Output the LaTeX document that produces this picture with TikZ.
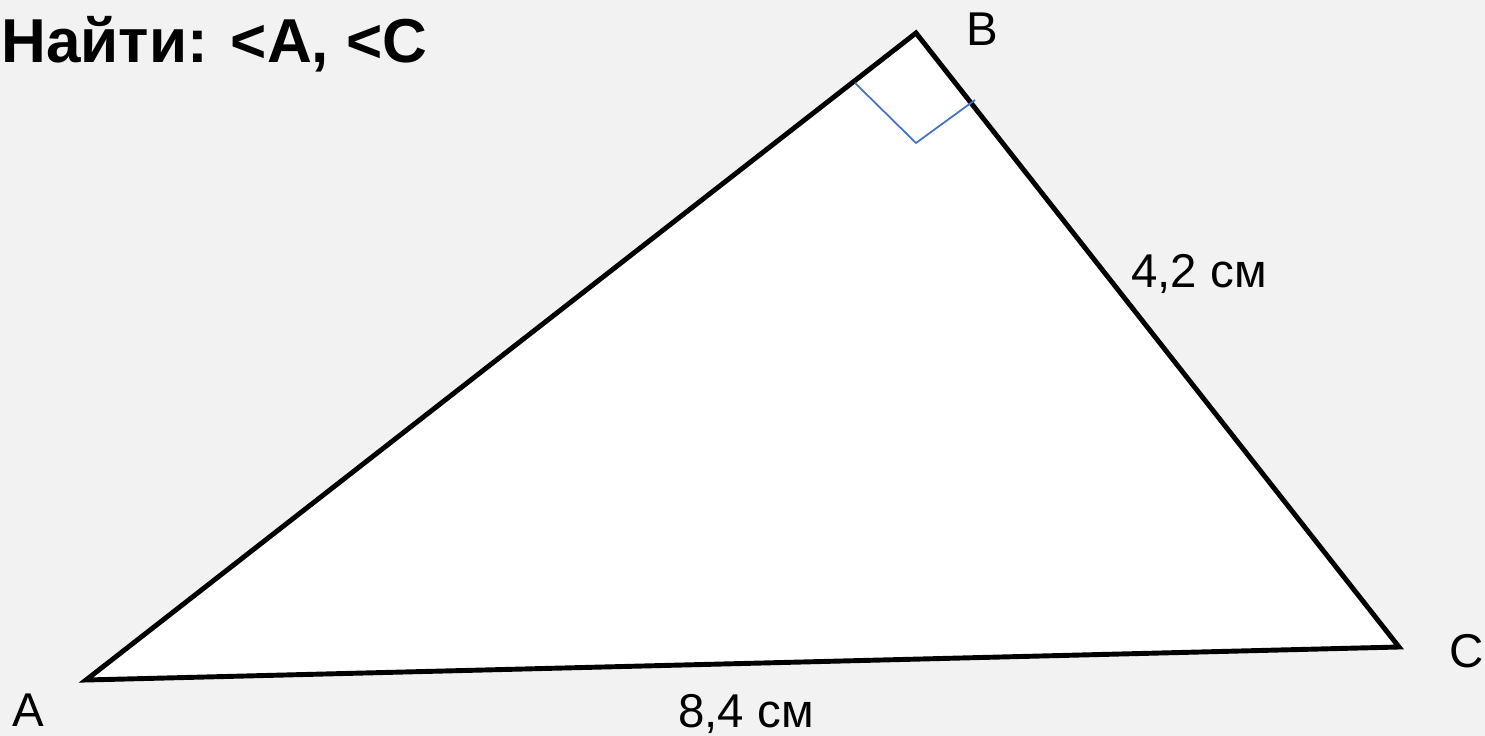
\documentclass[tikz,border=0pt]{standalone}
\usepackage{fontspec}
\setmainfont{Liberation Sans}
\usetikzlibrary{calc}
\definecolor{pagebg}{RGB}{242,242,242}
\definecolor{markblue}{RGB}{68,114,196}

\begin{document}
\begin{tikzpicture}[
    x=0.02cm, y=-0.02cm,
    side/.style={draw=black, line width=2.8pt, line join=miter, fill=white},
    rightmark/.style={draw=markblue, line width=1pt},
    lbl/.style={anchor=base west, inner sep=0pt, font=\fontsize{27}{32}\selectfont},
    task/.style={anchor=base west, inner sep=0pt, font=\fontsize{35.3}{42}\selectfont\bfseries}
]
\fill[pagebg] (0,0) rectangle (1485,736);
\useasboundingbox (0,0) rectangle (1485,736);

\coordinate (A) at (86,680);
\coordinate (B) at (916,33);
\coordinate (C) at (1399,647);

% triangle
\path[side] (A) -- (B) -- (C) -- cycle;

% right angle at B
\coordinate (ba) at (855,83);
\coordinate (bc) at (975,100);
\coordinate (bm) at (916,143);
\draw[rightmark] (ba) -- (bm) -- (bc);

% labels
\node[task] (goal) at (1,63) {Найти: <A, <C};
\node[lbl] (labA) at (12,726) {A};
\node[lbl] (labB) at (966,46) {B};
\node[lbl] (labC) at (1449,667) {C};
\node[lbl] (sideBC) at (1131,288) {4,2 см};
\node[lbl] (sideAC) at (678,727) {8,4 см};
\end{tikzpicture}
\end{document}
